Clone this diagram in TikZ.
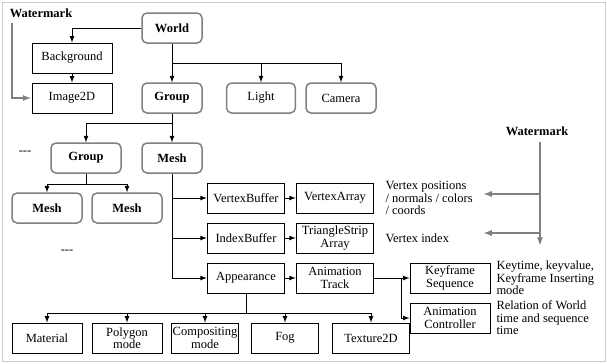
\documentclass[tikz,border=0pt]{standalone}
\usepackage{fontspec}
\setmainfont{Liberation Serif}
\usetikzlibrary{arrows.meta,calc}

\begin{document}
\begin{tikzpicture}
                [x=0.8pt,y=-0.8pt,>=latex,line width=0.8pt,
                 box/.style={draw,minimum height=24pt,inner sep=1pt,align=center,font=\fontsize{10}{10}\selectfont},
                 rbox/.style={box,draw=black!50,line width=1.2pt,rounded corners=4pt,font=\fontsize{10}{10}\selectfont\bfseries},
                 label/.style={align=left,inner sep=0pt,font=\fontsize{10}{10}\selectfont},
                 wmarrow/.style={draw=black!50,line width=1.4pt,-{Latex[length=7pt,width=5pt]}}]

                \useasboundingbox (0,0) rectangle (607,363);
                \draw[black!20,line width=0.6pt] (2,2) rectangle (605,361);

                % scene graph
                \node[rbox,minimum width=48pt] (world) at (172,28) {World};
                \node[box,minimum width=64pt] (background) at (72,58) {Background};
                \node[box,minimum width=64pt] (image) at (72,98) {Image2D};
                \node[rbox,minimum width=48pt] (group) at (172,98) {Group};
                \node[rbox,minimum width=55pt,font=\fontsize{10}{10}\selectfont] (light) at (261,98) {Light};
                \node[rbox,minimum width=56pt,font=\fontsize{10}{10}\selectfont] (camera) at (341,98) {Camera};
                \node[rbox,minimum width=56pt] (subgroup) at (86,158) {Group};
                \node[rbox,minimum width=48pt] (mesh) at (172,158) {Mesh};
                \node[rbox,minimum width=56pt] (meshA) at (47,208) {Mesh};
                \node[rbox,minimum width=56pt] (meshB) at (127,208) {Mesh};
                \node[label] (dotsA) at (25,153) {-{}-{}-};
                \node[label] (dotsB) at (67,252) {-{}-{}-};

                % mesh parts
                \node[box,minimum width=62pt] (vbuf) at (246,198) {VertexBuffer};
                \node[box,minimum width=62pt] (varr) at (335,198) {VertexArray};
                \node[box,minimum width=62pt] (ibuf) at (246,238) {IndexBuffer};
                \node[box,minimum width=62pt] (strip) at (335,238) {TriangleStrip\\Array};
                \node[box,minimum width=62pt] (appear) at (246,278) {Appearance};
                \node[box,minimum width=62pt] (track) at (335,278) {Animation\\Track};
                \node[box,minimum width=64pt] (keyseq) at (450,278) {Keyframe\\Sequence};
                \node[box,minimum width=64pt] (animctl) at (450,318) {Animation\\Controller};

                \node[box,minimum width=56pt] (material) at (47,338) {Material};
                \node[box,minimum width=56pt] (polygon) at (127,338) {Polygon\\mode};
                \node[box,minimum width=53pt] (compos) at (205,338) {Compositing\\mode};
                \node[box,minimum width=53pt] (fog) at (285,338) {Fog};
                \node[box,minimum width=62pt] (texture) at (371,338) {Texture2D};

                % notes
                \node[label,anchor=west] (vnote) at (385,198) {Vertex positions\\/ normals / colors\\/ coords};
                \node[label,anchor=west] (inote) at (385,238) {Vertex index};
                \node[label,anchor=west] (knote) at (496,278) {Keytime, keyvalue,\\Keyframe Inserting\\mode};
                \node[label,anchor=west] (rnote) at (496,318) {Relation of World\\time and sequence\\time};

                \node[label,font=\fontsize{10}{10}\selectfont\bfseries] (wmleft) at (41,13) {Watermark};
                \node[label,font=\fontsize{10}{10}\selectfont\bfseries] (wmright) at (537,131) {Watermark};

                \coordinate (wsplit) at (172,63);
                \coordinate (gsplit) at (172,123);
                \coordinate (ssplit) at (86,184);
                \coordinate (asplit) at (246,313);
                \coordinate (tsplit) at (401,278);
                \coordinate (wmstart) at (12,23);
                \coordinate (wmtop) at (540,142);
                \coordinate (wmend) at (540,246);
                \coordinate (vtip) at (483,194);
                \coordinate (itip) at (483,233);

                \draw[->] (world.west) -| (background.north);
                \draw[->] (background) -- (image);
                \draw (world) -- (wsplit);
                \draw[->] (wsplit) -- (group);
                \draw[->] (wsplit) -| (light.north);
                \draw[->] (wsplit) -| (camera.north);
                \draw[->] (group) -- (mesh);
                \draw[->] (gsplit) -| (subgroup.north);
                \draw (subgroup) -- (ssplit);
                \draw[->] (ssplit) -| (meshA.north);
                \draw[->] (ssplit) -| (meshB.north);

                \draw[->] (mesh.south) |- (vbuf.west);
                \draw[->] (mesh.south) |- (ibuf.west);
                \draw[->] (mesh.south) |- (appear.west);
                \draw[->] (vbuf) -- (varr);
                \draw[->] (ibuf) -- (strip);
                \draw[->] (appear) -- (track);
                \draw (track) -- (tsplit);
                \draw[->] (tsplit) -- (keyseq);
                \draw[->] (tsplit) |- (animctl.west);

                \draw (appear) -- (asplit);
                \foreach \part in {material,polygon,compos,fog,texture}
                    \draw[->] (asplit) -| (\part.north);

                \draw[wmarrow] (wmstart) |- (image.west);
                \draw[wmarrow] (wmtop) -- (wmend);
                \draw[wmarrow] (wmtop |- vtip) -- (vtip);
                \draw[wmarrow] (wmtop |- itip) -- (itip);

            \end{tikzpicture}
\end{document}
